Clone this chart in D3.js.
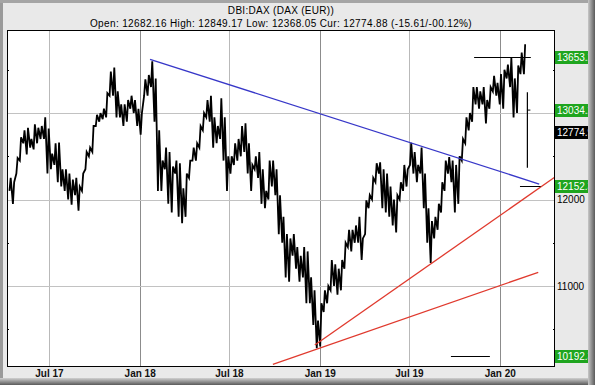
<!DOCTYPE html>
<html>
<head>
<meta charset="utf-8">
<script src="https://cdn.jsdelivr.net/npm/d3@7"></script>
<style>
  body { margin: 0; background: #fff; }
  text { font-family: "Liberation Sans", Arial, sans-serif; }
</style>
</head>
<body>
<script>
// weekly high / low, one pair per week starting Mon 10 Apr 2017
var firstWeek = '2017-04-10';
var weekHigh = [
  12250,12200,12480,12720,12800,12830,12700,12870,12830,12850,12950,12820,12530,12650,12660,12350,
  12350,12300,12230,12250,12150,12300,12550,12600,12850,12980,13000,13050,13230,13480,13525,13250,
  13100,13100,13150,13200,13150,13050,
  13000,13390,13440,13597,13400,12800,12450,12600,12550,12380,12450,12420,12130,12300,12450,12600,
  12650,12850,13000,13150,13200,12950,12850,13170,12950,12500,12500,12650,12700,12850,12880,12650,
  12400,12500,12550,12350,12100,12450,12450,12350,12050,11800,11600,11550,11600,11450,11350,11450,
  11400,11100,10950,10600,10800,
  10950,11000,11300,11250,11200,11300,11500,11650,11650,11700,11800,11550,11990,12050,12250,12420,
  12430,12350,12300,12150,12000,12050,12200,12400,12350,12656,12550,12400,12600,12300,11900,11750,
  11800,11950,12200,12450,12490,12450,12400,12500,12700,12950,13000,13300,13300,13250,13300,13150,
  13300,13430,13350,13450,
  13500,13560,13640,13400,13550,13700,13795
];
var weekLow = [
  12100,11950,12300,12450,12650,12520,12600,12580,12650,12700,12700,12300,12350,12400,12200,12150,
  12100,12000,11940,12050,11870,12100,12350,12500,12550,12850,12900,12930,12950,13200,13200,12950,
  12950,12850,12900,13050,13000,12850,
  12750,13200,13200,13300,12900,12100,12100,12350,11950,11850,12300,11800,11727,11800,12250,12450,
  12450,12600,12800,12950,12900,12600,12650,12700,12450,12100,12300,12400,12450,12500,12550,12300,
  12100,12350,12250,11950,11900,12000,12150,12050,11600,11500,11100,11050,11350,11200,11050,11100,
  10800,10800,10550,10280,10300,
  10700,10800,10950,11000,10900,10950,11200,11450,11400,11500,11500,11300,11600,11900,12000,12200,
  12300,11900,11850,11800,11700,11620,12000,12100,12150,12400,12300,12200,12300,11900,11500,11266,
  11550,11650,11850,12100,12300,12200,11850,11950,12450,12650,12800,12900,13100,13050,13100,12880,
  13050,13250,13200,13100,
  13050,13400,13300,12950,13000,13450,13450
];
// last bars (24-26 Feb 2020) after the gap
var lastBar = { date: '2020-02-25', high: 13240, low: 12368, tick: 13034 };

// drawn support / resistance lines
var blueLine = [['2018-01-21', 13621], ['2020-03-20', 12179]];
var redLines = [
  [['2018-12-21', 10318], ['2020-04-21', 12260]],
  [['2018-09-27', 10095], ['2020-03-18', 11158]]
];
var levelLines = [
  { value: 13653.2, from: '2019-11-09', to: '2020-03-03' },
  { value: 12152.3, from: '2020-02-10', to: '2020-03-23' },
  { value: 10192.3, from: '2019-09-23', to: '2019-12-11' }
];
var valueBoxes = [
  { value: 13653.2, color: '#1fa51f' },
  { value: 13034.2, color: '#1fa51f' },
  { value: 12774.9, color: '#000' },
  { value: 12152.3, color: '#1fa51f' },
  { value: 10192.3, color: '#1fa51f' }
];
var priceTicks = [11000, 12000, 13000];
var minorTicks = [10500, 11500, 12500, 13500];
var title = 'DBI:DAX (DAX (EUR))';
var subtitle = 'Open: 12682.16 High: 12849.17 Low: 12368.05 Cur: 12774.88 (-15.61/-00.12%)';

var W = 595, H = 385;
var pL = 7, pR = 555, pT = 30, pB = 366;
var parse = d3.timeParse('%Y-%m-%d');

var svg = d3.select('body').append('svg').attr('width', W).attr('height', H);
var defs = svg.append('defs');

// frame
svg.append('rect').attr('width', W).attr('height', H).attr('fill', '#e9e9e9');
svg.append('rect').attr('width', 3).attr('height', H).attr('fill', '#9a9a9a');
svg.append('rect').attr('width', W).attr('height', 3).attr('fill', '#a5a5a5');

var x = d3.scaleTime().domain([new Date(2017, 3, 6), new Date(2020, 3, 21)]).range([pL, pR]);
var y = d3.scaleLinear().domain([10075, 13960]).range([pB, pT]);

svg.append('rect').attr('x', pL).attr('y', pT).attr('width', pR - pL).attr('height', pB - pT).attr('fill', '#fff');

defs.append('clipPath').attr('id', 'plot').append('rect')
  .attr('x', pL).attr('y', pT).attr('width', pR - pL).attr('height', pB - pT);

// grid
var xTicks = x.ticks(d3.timeMonth.every(6));
svg.append('g').selectAll('line').data(xTicks).enter().append('line')
  .attr('x1', function(d){ return Math.round(x(d)) + 0.5; })
  .attr('x2', function(d){ return Math.round(x(d)) + 0.5; })
  .attr('y1', pT).attr('y2', pB)
  .attr('stroke', function(d){ return d.getMonth() === 0 ? '#8c8c8c' : '#b9b9b9'; });
svg.append('g').selectAll('line').data(priceTicks).enter().append('line')
  .attr('x1', pL).attr('x2', pR)
  .attr('y1', function(d){ return Math.round(y(d)) + 0.5; })
  .attr('y2', function(d){ return Math.round(y(d)) + 0.5; })
  .attr('stroke', '#c2c2c2');

// price: each week drawn as a low -> high stroke, chained into one jagged path
var pts = [];
weekHigh.forEach(function(h, i){
  var mon = d3.timeDay.offset(parse(firstWeek), i * 7);
  pts.push([d3.timeHour.offset(mon, 24), weekLow[i]]);
  pts.push([d3.timeHour.offset(mon, 84), h]);
});
var plot = svg.append('g').attr('clip-path', 'url(#plot)');
plot.append('path').datum(pts)
  .attr('d', d3.line().x(function(d){ return x(d[0]); }).y(function(d){ return y(d[1]); }))
  .attr('fill', 'none').attr('stroke', '#000').attr('stroke-width', 1.8).attr('stroke-linejoin', 'miter');
var lb = parse(lastBar.date);
plot.append('line').attr('x1', x(lb)).attr('x2', x(lb))
  .attr('y1', y(lastBar.high)).attr('y2', y(lastBar.low)).attr('stroke', '#000').attr('stroke-width', 1.2);
plot.append('line').attr('x1', x(lb)).attr('x2', x(lb) + 3)
  .attr('y1', y(lastBar.tick)).attr('y2', y(lastBar.tick)).attr('stroke', '#000');

// trend lines
var seg = d3.line().x(function(d){ return x(parse(d[0])); }).y(function(d){ return y(d[1]); });
plot.append('path').attr('d', seg(blueLine)).attr('fill', 'none').attr('stroke', '#3737c8').attr('stroke-width', 1.3);
redLines.forEach(function(l){
  plot.append('path').attr('d', seg(l)).attr('fill', 'none').attr('stroke', '#e03a2e').attr('stroke-width', 1.3);
});
levelLines.forEach(function(l){
  plot.append('line').attr('x1', x(parse(l.from))).attr('x2', x(parse(l.to)))
    .attr('y1', Math.round(y(l.value)) + 0.5).attr('y2', Math.round(y(l.value)) + 0.5)
    .attr('stroke', '#000');
});

// minor ticks on both sides
minorTicks.forEach(function(v){
  var yy = Math.round(y(v)) + 0.5;
  svg.append('line').attr('x1', pL).attr('x2', pL + 2).attr('y1', yy).attr('y2', yy).attr('stroke', '#000');
  svg.append('line').attr('x1', pR - 2).attr('x2', pR).attr('y1', yy).attr('y2', yy).attr('stroke', '#000');
});

// border
svg.append('rect').attr('x', pL + 0.5).attr('y', pT + 0.5)
  .attr('width', pR - pL - 1).attr('height', pB - pT)
  .attr('fill', 'none').attr('stroke', '#000');

// bottom axis labels
svg.append('g').selectAll('text').data(xTicks).enter().append('text')
  .attr('x', function(d){ return x(d); }).attr('y', 377)
  .attr('text-anchor', 'middle').attr('font-size', 10).attr('font-weight', 'bold')
  .attr('fill', '#111').text(d3.timeFormat('%b %y'));

// right price labels (hidden where a value box sits)
var freeTicks = priceTicks.filter(function(v){
  return valueBoxes.every(function(b){ return Math.abs(y(b.value) - y(v)) > 11; });
});
svg.append('g').selectAll('text').data(freeTicks).enter().append('text')
  .attr('x', pR + 2).attr('y', function(d){ return y(d) + 3.5; })
  .attr('font-size', 10).attr('fill', '#000').text(function(d){ return d; });

var boxes = svg.append('g').selectAll('g').data(valueBoxes).enter().append('g');
boxes.append('rect').attr('x', pR).attr('y', function(d){ return Math.round(y(d.value)) - 6; })
  .attr('width', 34).attr('height', 13).attr('fill', function(d){ return d.color; });
boxes.append('text').attr('x', pR + 2).attr('y', function(d){ return Math.round(y(d.value)) + 4; })
  .attr('font-size', 10).attr('fill', '#fff').text(function(d){ return d.value.toFixed(1); });

// titles
svg.append('text').attr('x', 281).attr('y', 14).attr('text-anchor', 'middle')
  .attr('font-size', 10).attr('letter-spacing', 0.3).attr('fill', '#000').text(title);
svg.append('text').attr('x', 281).attr('y', 27).attr('text-anchor', 'middle')
  .attr('font-size', 10).attr('letter-spacing', 0.37).attr('fill', '#000').text(subtitle);

// right and bottom shadow of the frame
var gr = defs.append('linearGradient').attr('id', 'shR').attr('x1', 0).attr('x2', 1).attr('y1', 0).attr('y2', 0);
gr.append('stop').attr('offset', 0).attr('stop-color', '#c8c8c8');
gr.append('stop').attr('offset', 1).attr('stop-color', '#5a5a5a');
var gb = defs.append('linearGradient').attr('id', 'shB').attr('x1', 0).attr('x2', 0).attr('y1', 0).attr('y2', 1);
gb.append('stop').attr('offset', 0).attr('stop-color', '#d0d0d0');
gb.append('stop').attr('offset', 1).attr('stop-color', '#5a5a5a');
svg.append('rect').attr('x', 0).attr('y', 378).attr('width', W).attr('height', 7).attr('fill', 'url(#shB)');
svg.append('rect').attr('x', 588).attr('y', 0).attr('width', 7).attr('height', H).attr('fill', 'url(#shR)');
</script>
</body>
</html>
